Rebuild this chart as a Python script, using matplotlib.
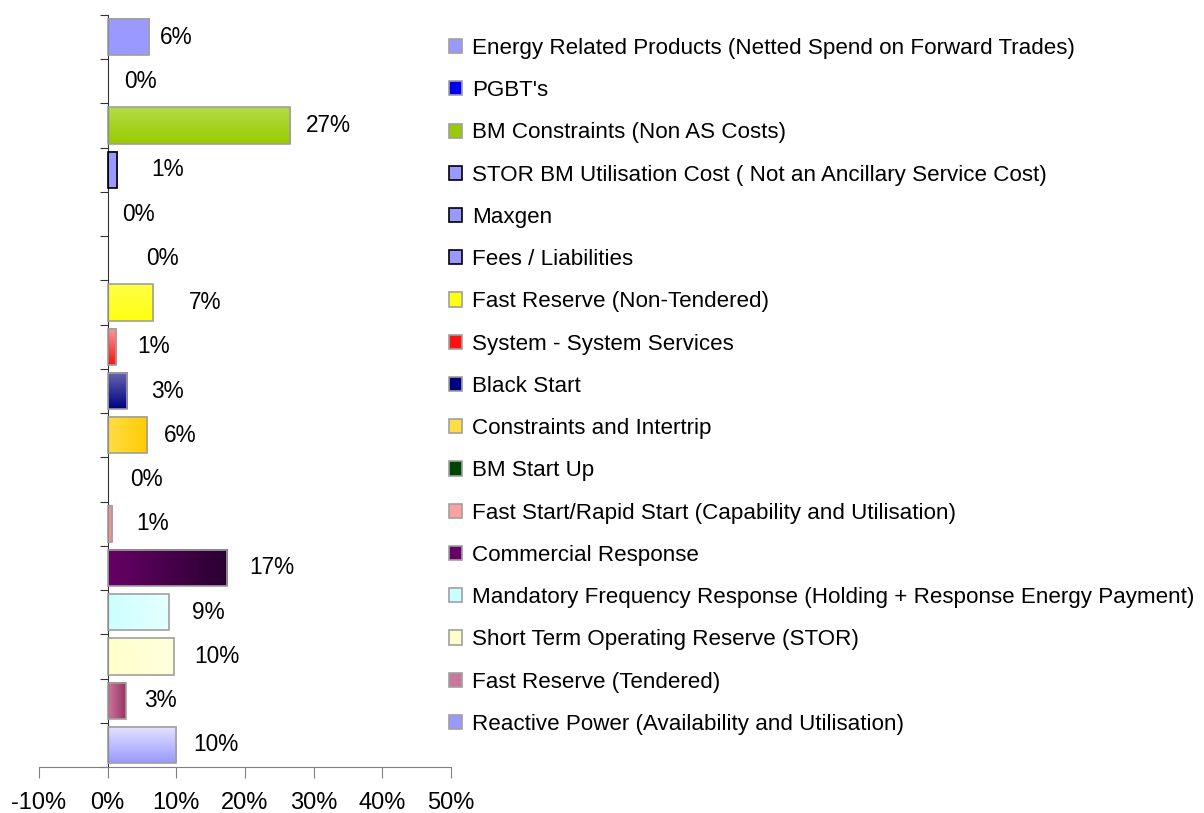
import numpy as np
import matplotlib
matplotlib.use("Agg")
from matplotlib import pyplot as plt
from matplotlib.patches import Patch
from matplotlib.colors import to_rgb

plt.rcParams["font.family"] = ["Liberation Sans", "DejaVu Sans"]

# categories, top to bottom
categories = [
    "Energy Related Products (Netted Spend on Forward Trades)",
    "PGBT's",
    "BM Constraints (Non AS Costs)",
    "STOR BM Utilisation Cost ( Not an Ancillary Service Cost)",
    "Maxgen",
    "Fees / Liabilities",
    "Fast Reserve (Non-Tendered)",
    "System - System Services",
    "Black Start",
    "Constraints and Intertrip",
    "BM Start Up",
    "Fast Start/Rapid Start (Capability and Utilisation)",
    "Commercial Response",
    "Mandatory Frequency Response (Holding + Response Energy Payment)",
    "Short Term Operating Reserve (STOR)",
    "Fast Reserve (Tendered)",
    "Reactive Power (Availability and Utilisation)",
]
# share of spend, percent
values = [6.0, 0, 26.6, 1.4, 0, 0, 6.6, 1.2, 2.8, 5.7, 0, 0.7, 17.4, 8.9, 9.7, 2.6, 10.0]

# fill: (start colour, end colour, direction)  v = top->bottom, h = left->right
fills = [
    ("#9999ff", "#9999ff", "v"),
    ("#5555ff", "#0000ee", "v"),
    ("#b3db45", "#99cc00", "v"),
    ("#9999ff", "#9999ff", "v"),
    ("#9999ff", "#9999ff", "v"),
    ("#9999ff", "#9999ff", "v"),
    ("#ffff44", "#ffff11", "v"),
    ("#ff9999", "#ff1111", "v"),
    ("#6666b0", "#000080", "v"),
    ("#ffdd44", "#ffcc00", "h"),
    ("#007700", "#004400", "v"),
    ("#ffa0a0", "#ff8080", "h"),
    ("#660066", "#2a0030", "h"),
    ("#ccffff", "#e6ffff", "h"),
    ("#ffffcc", "#ffffdd", "h"),
    ("#cc7799", "#993366", "h"),
    ("#e4e4ff", "#9999ff", "v"),
]
edges = ["#a0a0a0", "#a0a0a0", "#a0a0a0", "#000000", "#000000", "#000000",
         "#a0a0a0", "#a0a0a0", "#a0a0a0", "#a0a0a0", "#a0a0a0", "#a0a0a0",
         "#a0a0a0", "#a0a0a0", "#a0a0a0", "#a0a0a0", "#a0a0a0"]
# horizontal gap between bar end and its label, pixels
label_pad = [11, 16, 16, 34, 14, 38, 36, 21, 24, 17, 22, 24, 22, 23, 20, 19, 17]

xticks = [-10, 0, 10, 20, 30, 40, 50]


def gradient(c0, c1, d, n=64):
    a = np.array(to_rgb(c0))
    b = np.array(to_rgb(c1))
    t = np.linspace(0, 1, n)[:, None]
    g = a + (b - a) * t
    if d == "v":
        return g[:, None, :]
    return g[None, :, :]


fig = plt.figure(figsize=(12.04, 8.13), dpi=100)
ax = fig.add_axes([39 / 1204, 1 - 767 / 813, 412 / 1204, 752 / 813])

n = len(categories)
ypos = np.arange(n)[::-1]
h = 0.82

for i in range(n):
    v = values[i]
    y = ypos[i]
    if v > 0:
        c0, c1, d = fills[i]
        ax.imshow(gradient(c0, c1, d), extent=(0, v, y - h / 2, y + h / 2),
                  origin="upper", aspect="auto", interpolation="bilinear", zorder=2)
        ax.barh(y, v, height=h, facecolor="none", edgecolor=edges[i], linewidth=1.2, zorder=3)

for i in range(n):
    ax.annotate(f"{values[i]:.0f}%", (values[i], ypos[i]), xytext=(label_pad[i], 0),
                textcoords="offset pixels", va="center", ha="left", fontsize=16.3)

ax.set_xlim(-10, 50)
ax.set_ylim(-0.5, n - 0.5)
ax.set_xticks(xticks)
ax.set_xticklabels([f"{t}%" for t in xticks], fontsize=17)
ax.set_yticks(np.arange(-0.5, n, 1))
ax.set_yticklabels([])

for s in ["top", "right"]:
    ax.spines[s].set_visible(False)
ax.spines["left"].set_position(("data", 0))
ax.spines["left"].set_color("#333333")
ax.spines["bottom"].set_color("#808080")
ax.tick_params(axis="x", direction="out", length=8, color="#808080", pad=10)
ax.tick_params(axis="y", direction="out", length=6, color="#333333")

handles = [Patch(facecolor=f[0] if f[2] == "h" else f[1], edgecolor=e, linewidth=1.2)
           for f, e in zip(fills, edges)]
fig.legend(handles, categories, loc="upper left", bbox_to_anchor=(449 / 1204, 1 - 38 / 813),
           frameon=False, fontsize=16.1, handlelength=0.6, handleheight=0.6,
           handletextpad=0.42, labelspacing=0.95, borderpad=0, borderaxespad=0)

fig.savefig("out.png", dpi=100)
